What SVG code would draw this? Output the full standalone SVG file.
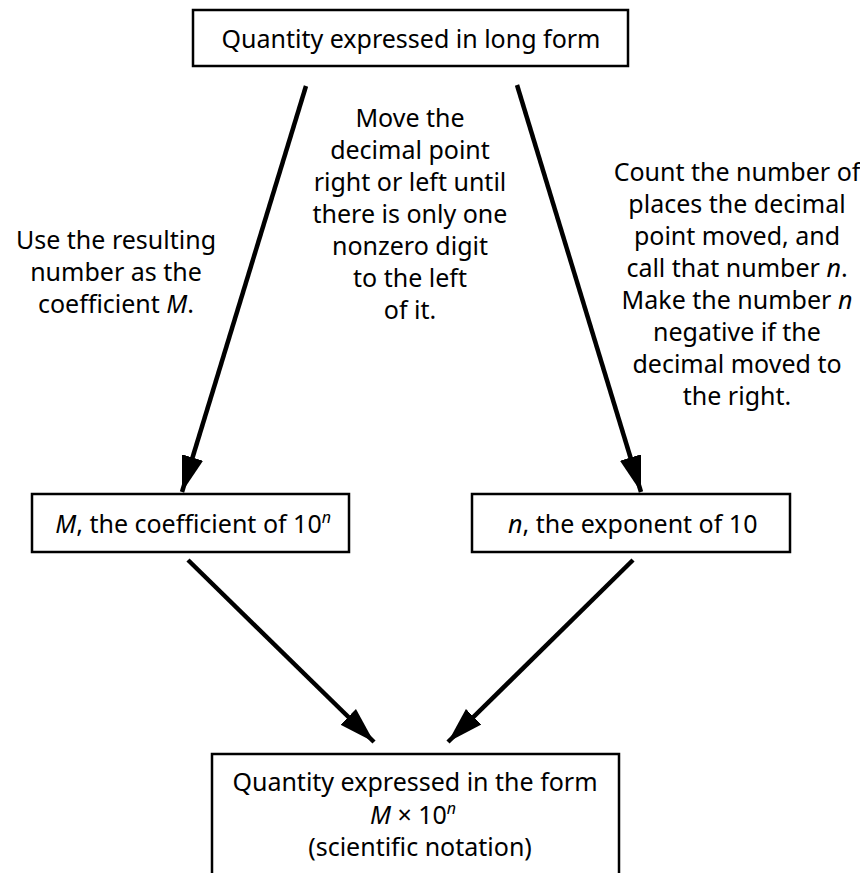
<svg xmlns="http://www.w3.org/2000/svg" width="860" height="873" viewBox="0 0 860 873">
<defs>
<marker id="ah" markerUnits="userSpaceOnUse" markerWidth="38" markerHeight="24" refX="36" refY="11" orient="auto" viewBox="0 0 38 22">
<path d="M0,0 L36,11 L0,22 z" fill="#000"/>
</marker>
</defs>
<style>
.box{fill:#fff;stroke:#000;stroke-width:2.5}
text{font-family:"Noto Sans","Open Sans","Liberation Sans",sans-serif;font-size:25px;fill:#000}
.c{text-anchor:middle}
.e{stroke:#000;stroke-width:4.5;fill:none;marker-end:url(#ah)}
</style>
<rect width="860" height="873" fill="#fff"/>
<g id="top">
<rect class="box" x="193" y="10" width="435" height="56"/>
<text class="c" x="411" y="48">Quantity expressed in long form</text>
</g>
<g id="coef">
<rect class="box" x="32" y="494" width="317" height="58"/>
<text x="331" y="533" text-anchor="end"><tspan font-style="italic">M</tspan>, the coefficient of 10<tspan font-size="16" dy="-10" font-style="italic">n</tspan></text>
</g>
<g id="expo">
<rect class="box" x="472" y="494" width="318" height="58"/>
<text x="508" y="533"><tspan font-style="italic">n</tspan>, the exponent of 10</text>
</g>
<g id="result">
<rect class="box" x="212" y="754" width="407" height="130"/>
<text class="c" x="415" y="791">Quantity expressed in the form</text>
<text class="c" x="413" y="824"><tspan font-style="italic">M</tspan> × 10<tspan font-size="16" dy="-10" font-style="italic">n</tspan></text>
<text class="c" x="420" y="856">(scientific notation)</text>
</g>
<g id="labels">
<text class="c" x="116" y="249">Use the resulting</text>
<text class="c" x="116" y="281">number as the</text>
<text class="c" x="116" y="313">coefficient <tspan font-style="italic">M</tspan>.</text>
<text class="c" x="410" y="127">Move the</text>
<text class="c" x="410" y="159">decimal point</text>
<text class="c" x="410" y="191">right or left until</text>
<text class="c" x="410" y="223">there is only one</text>
<text class="c" x="410" y="255">nonzero digit</text>
<text class="c" x="410" y="287">to the left</text>
<text class="c" x="410" y="319">of it.</text>
<text class="c" x="737" y="181">Count the number of</text>
<text class="c" x="737" y="213">places the decimal</text>
<text class="c" x="737" y="245">point moved, and</text>
<text class="c" x="737" y="277">call that number <tspan font-style="italic">n</tspan>.</text>
<text class="c" x="737" y="309">Make the number <tspan font-style="italic">n</tspan></text>
<text class="c" x="737" y="341">negative if the</text>
<text class="c" x="737" y="373">decimal moved to</text>
<text class="c" x="737" y="405">the right.</text>
</g>
<g id="connectors">
<line class="e" x1="306" y1="86" x2="182" y2="492"/>
<line class="e" x1="517" y1="85" x2="641" y2="492"/>
<line class="e" x1="188" y1="560" x2="374" y2="742"/>
<line class="e" x1="633" y1="560" x2="448" y2="742"/>
</g>
</svg>
